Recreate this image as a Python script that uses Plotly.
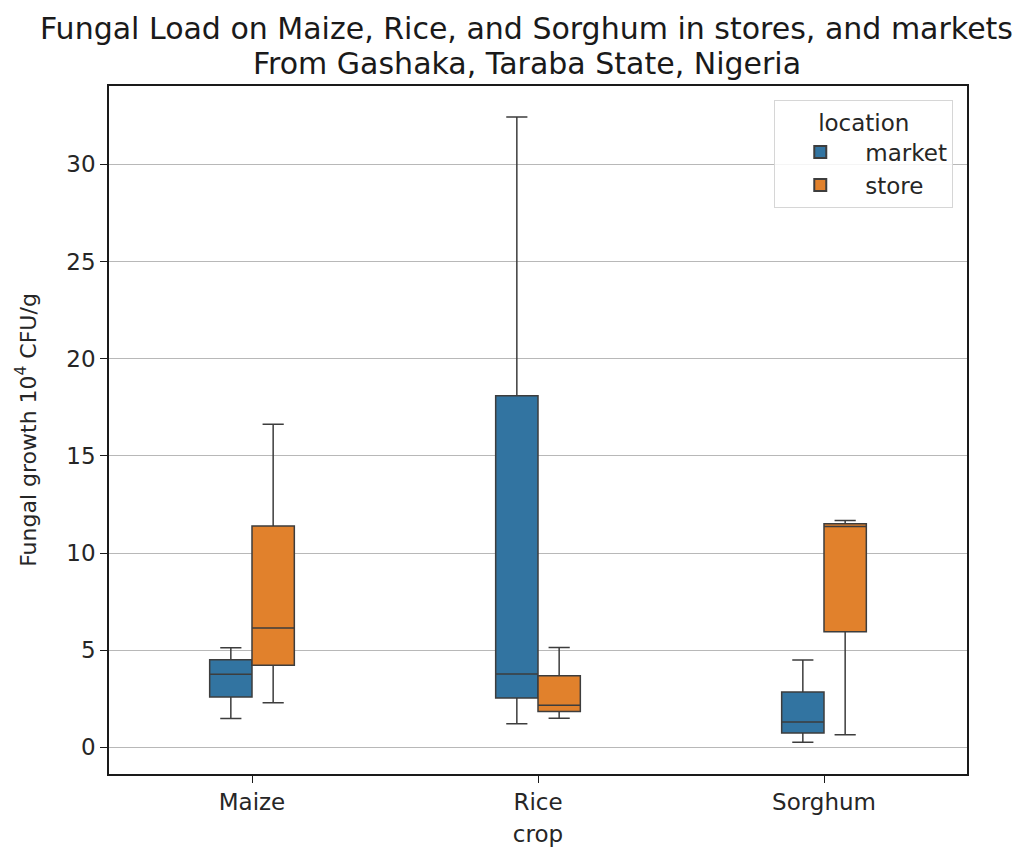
import plotly.graph_objects as go

# Crops on the x axis and the two sampling locations
crops = ["Maize", "Rice", "Sorghum"]
locations = ["market", "store"]

# Box summary statistics (fungal growth, 10^4 CFU/g) per crop
market_low = [1.48, 1.22, 0.27]
market_q1 = [2.59, 2.54, 0.74]
market_median = [3.76, 3.77, 1.30]
market_q3 = [4.51, 18.09, 2.85]
market_high = [5.13, 32.43, 4.49]

store_low = [2.30, 1.50, 0.65]
store_q1 = [4.22, 1.85, 5.95]
store_median = [6.14, 2.17, 11.37]
store_q3 = [11.39, 3.69, 11.51]
store_high = [16.62, 5.14, 11.67]

y_ticks = [0, 5, 10, 15, 20, 25, 30]

title_lines = [
    "Fungal Load on Maize, Rice, and Sorghum in stores, and markets",
    "From Gashaka, Taraba State, Nigeria",
]

FONT = "DejaVu Sans"
EDGE = "#3d3d3d"
COLORS = {"market": "#3274a1", "store": "#e1812c"}

stats = {
    "market": (market_low, market_q1, market_median, market_q3, market_high),
    "store": (store_low, store_q1, store_median, store_q3, store_high),
}

fig = go.Figure()
for loc in locations:
    low, q1, med, q3, high = stats[loc]
    fig.add_trace(go.Box(
        name=loc,
        x=crops,
        lowerfence=low,
        q1=q1,
        median=med,
        q3=q3,
        upperfence=high,
        boxpoints=False,
        fillcolor=COLORS[loc],
        line=dict(color=EDGE, width=1.5),
        whiskerwidth=0.5,
        hoverinfo="skip",
    ))

# Two-line title placed above the axes
for text, ypos in zip(title_lines, [1.083, 1.032]):
    fig.add_annotation(
        text=text,
        xref="paper", yref="paper",
        x=0.487, y=ypos,
        xanchor="center", yanchor="middle",
        showarrow=False,
        font=dict(family=FONT, size=30, color="#1a1a1a"),
    )

fig.update_layout(
    width=1035,
    height=852,
    margin=dict(l=109, r=68, t=86, b=78, autoexpand=False),
    paper_bgcolor="white",
    plot_bgcolor="white",
    boxmode="group",
    boxgap=0.704,
    boxgroupgap=0.0,
    font=dict(family=FONT, size=23, color="#262626"),
    legend=dict(
        title=dict(text="location", side="top center", font=dict(size=23)),
        x=0.984,
        y=0.98,
        xanchor="right",
        yanchor="top",
        bgcolor="rgba(255,255,255,0.85)",
        bordercolor="#d6d6d6",
        borderwidth=1,
        font=dict(size=23),
        itemwidth=80,
        itemsizing="constant",
    ),
    showlegend=True,
)

fig.update_xaxes(
    type="category",
    categoryorder="array",
    categoryarray=crops,
    range=[-0.5, 2.5],
    automargin=False,
    title=dict(text="crop", font=dict(size=23), standoff=12),
    showline=True,
    linecolor="#1a1a1a",
    linewidth=1.5,
    mirror=True,
    ticks="outside",
    ticklen=7,
    tickwidth=1.2,
    tickcolor="#1a1a1a",
    showgrid=False,
    zeroline=False,
)

fig.update_yaxes(
    range=[-1.37, 34.03],
    tickvals=y_ticks,
    automargin=False,
    title=dict(text="Fungal growth 10<sup>4</sup> CFU/g", font=dict(size=22), standoff=24),
    showline=True,
    linecolor="#1a1a1a",
    linewidth=1.5,
    mirror=True,
    ticks="outside",
    ticklen=7,
    tickwidth=1.2,
    tickcolor="#1a1a1a",
    showgrid=True,
    gridcolor="#b8b8b8",
    gridwidth=1,
    zeroline=False,
)

fig.write_html("out.html")
